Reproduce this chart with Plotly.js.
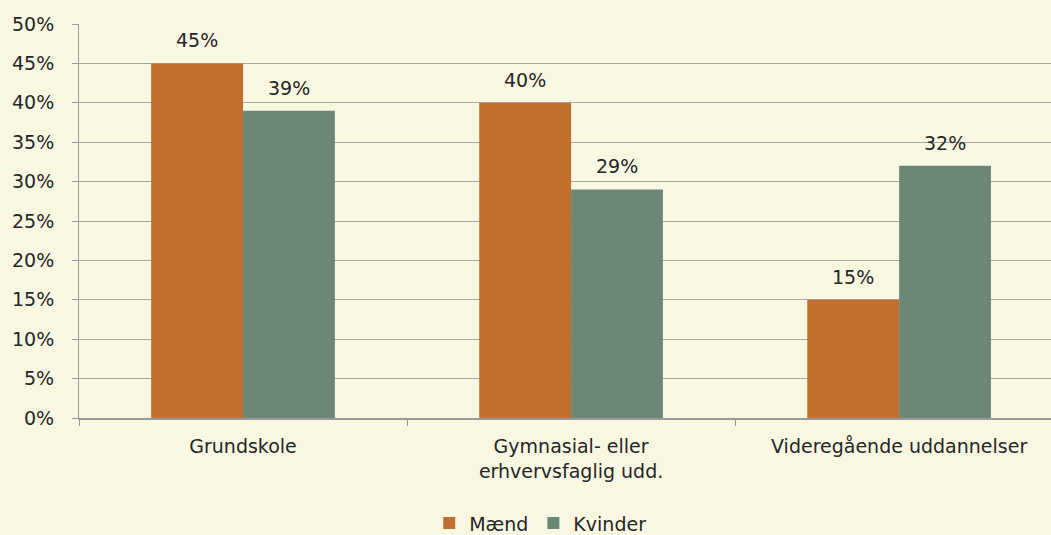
<!DOCTYPE html>
<html>
<head>
<meta charset="utf-8">
<script src="https://cdn.plot.ly/plotly-3.0.1.min.js"></script>
<style>
  html, body { margin: 0; padding: 0; background: #f8f8e2; }
</style>
</head>
<body>
<div id="myPlot" style="width:1051px;height:535px;"></div>
<script>
// Categories and shares
const categories = ["Grundskole", "Gymnasial- eller<br>erhvervsfaglig udd.", "Videregående uddannelser"];
const maend = [0.45, 0.40, 0.15];
const kvinder = [0.39, 0.29, 0.32];

const labelFont = { family: "DejaVu Sans, Verdana, sans-serif", size: 19, color: "#262626" };
const pct = (v) => Math.round(v * 100) + "%";

const traceMaend = {
  x: categories,
  y: maend,
  name: "Mænd",
  type: "bar",
  marker: { color: "#c06f2f" },
  hoverinfo: "none",
};

const traceKvinder = {
  x: categories,
  y: kvinder,
  name: "Kvinder",
  type: "bar",
  marker: { color: "#6b8877" },
  hoverinfo: "none",
};

const data = [traceMaend, traceKvinder];

// value labels over each bar (bar centres sit at +-0.14 of the category)
const annotations = [];
maend.forEach((v, i) => {
  annotations.push({ x: i - 0.14, y: v, xref: "x", yref: "y", text: pct(v),
    showarrow: false, yanchor: "bottom", yshift: 10, font: labelFont });
});
kvinder.forEach((v, i) => {
  annotations.push({ x: i + 0.14, y: v, xref: "x", yref: "y", text: pct(v),
    showarrow: false, yanchor: "bottom", yshift: 10, font: labelFont });
});

const layout = {
  width: 1051,
  height: 535,
  margin: { l: 79, r: 0, t: 24, b: 117 },
  paper_bgcolor: "#f8f8e2",
  plot_bgcolor: "#f8f8e2",
  font: labelFont,
  barmode: "group",
  bargap: 0.44,
  bargroupgap: 0,
  showlegend: true,
  legend: {
    orientation: "h",
    xref: "container",
    yref: "container",
    x: 0.514,
    xanchor: "center",
    y: 0.022,
    yanchor: "middle",
    font: labelFont,
    itemwidth: 30,
  },
  annotations: annotations,
  xaxis: {
    type: "category",
    range: [-0.5, 2.463],
    showline: true,
    linecolor: "#9a9a9a",
    linewidth: 2,
    ticks: "outside",
    tickson: "boundaries",
    ticklen: 6,
    tickcolor: "#9a9a9a",
    tickwidth: 1,
    showgrid: false,
    tickfont: labelFont,
    tickangle: 0,
    ticklabelstandoff: 10,
  },
  yaxis: {
    range: [0, 0.5],
    tickvals: [0, 0.05, 0.1, 0.15, 0.2, 0.25, 0.3, 0.35, 0.4, 0.45, 0.5],
    tickformat: ".0%",
    showline: true,
    linecolor: "#9a9a9a",
    linewidth: 1,
    ticks: "outside",
    ticklen: 6,
    tickcolor: "#9a9a9a",
    showgrid: true,
    gridcolor: "#a6a6a6",
    gridwidth: 1,
    zeroline: false,
    tickfont: labelFont,
    ticklabelstandoff: 14,
  },
};

const config = { staticPlot: true };

Plotly.newPlot("myPlot", data, layout, config);
</script>
</body>
</html>
